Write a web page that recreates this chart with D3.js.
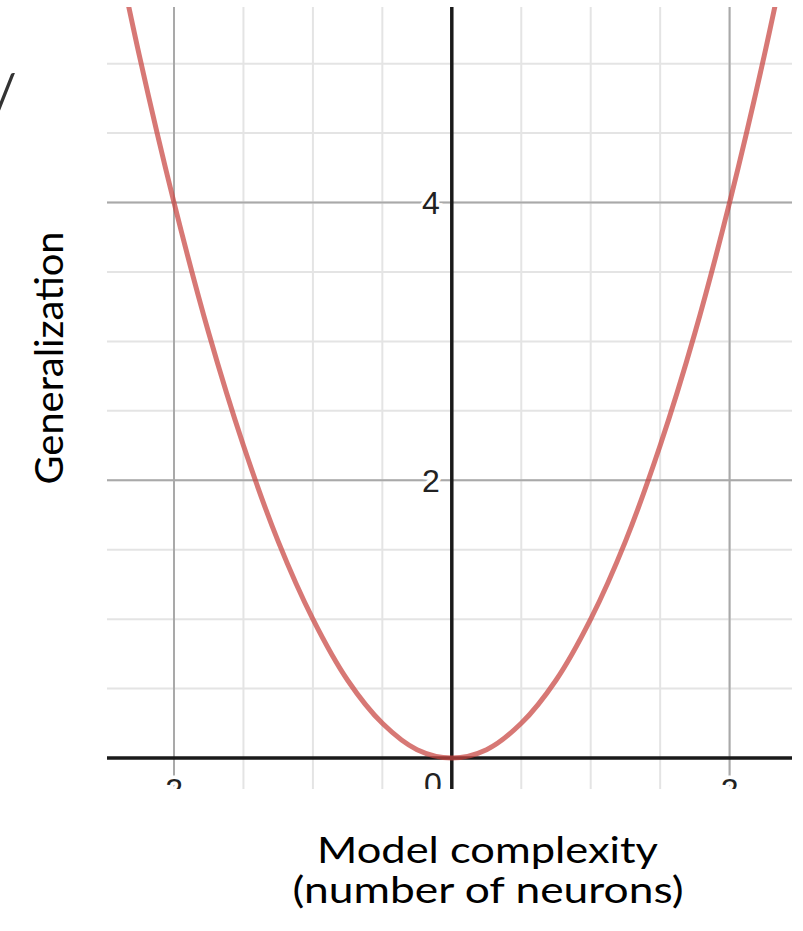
<!DOCTYPE html>
<html>
<head>
<meta charset="utf-8">
<script src="https://cdn.jsdelivr.net/npm/d3@7"></script>
<style>
  html, body { margin: 0; padding: 0; background: #fff; }
  svg { display: block; }
</style>
</head>
<body>
<svg id="chart" width="803" height="931"></svg>
<script>
// Points along the generalization curve (model complexity vs. generalization)
const curveX = [-2.5, -2.25, -2, -1.75, -1.5, -1.25, -1, -0.75, -0.5, -0.25, 0,
                0.25, 0.5, 0.75, 1, 1.25, 1.5, 1.75, 2, 2.25, 2.5];
const curveY = [6.25, 5.06, 4, 3.06, 2.25, 1.56, 1, 0.56, 0.25, 0.06, 0,
                0.06, 0.25, 0.56, 1, 1.56, 2.25, 3.06, 4, 5.06, 6.25];

// Grid and tick values
const minorXGrid = [-2.5, -2, -1.5, -1, -0.5, 0.5, 1, 1.5, 2, 2.5];
const majorXGrid = [-2, 2];
const minorYGrid = [0.5, 1, 1.5, 2, 2.5, 3, 3.5, 4, 4.5, 5, 5.5];
const majorYGrid = [2, 4];
const xTickValues = [-2, 0, 2];
const yTickValues = [2, 4];
const yTickLabels = ["2", "4"];
const xTickLabels = ["\u22122", "0", "2"];

const xTitleLines = ["Model complexity", "(number of neurons)"];
const yTitle = "Generalization";

const svg = d3.select("#chart");

// Plot frame (graph paper area)
const plot = { left: 107, right: 792, top: 7, bottom: 789 };

const x = d3.scaleLinear().domain([-2, 2]).range([174, 729.6]);
const y = d3.scaleLinear().domain([0, 4]).range([758, 202.5]);

const defs = svg.append("defs");
defs.append("clipPath").attr("id", "plotClip")
  .append("rect")
  .attr("x", plot.left).attr("y", plot.top)
  .attr("width", plot.right - plot.left)
  .attr("height", plot.bottom - plot.top);

const g = svg.append("g").attr("clip-path", "url(#plotClip)");

// Minor grid
g.append("g").selectAll("line").data(minorXGrid).join("line")
  .attr("x1", d => x(d)).attr("x2", d => x(d))
  .attr("y1", plot.top).attr("y2", plot.bottom)
  .attr("stroke", "#e4e4e4").attr("stroke-width", 2);
g.append("g").selectAll("line").data(minorYGrid).join("line")
  .attr("y1", d => y(d)).attr("y2", d => y(d))
  .attr("x1", plot.left).attr("x2", plot.right)
  .attr("stroke", "#e4e4e4").attr("stroke-width", 2);

// Major grid
g.append("g").selectAll("line").data(majorXGrid).join("line")
  .attr("x1", d => x(d)).attr("x2", d => x(d))
  .attr("y1", plot.top).attr("y2", plot.bottom)
  .attr("stroke", "#a9a9a9").attr("stroke-width", 2);
g.append("g").selectAll("line").data(majorYGrid).join("line")
  .attr("y1", d => y(d)).attr("y2", d => y(d))
  .attr("x1", plot.left).attr("x2", plot.right)
  .attr("stroke", "#a9a9a9").attr("stroke-width", 2);

// Tick labels with white halo
const tickFont = "'Liberation Sans', Arial, sans-serif";
g.append("g").selectAll("text").data(yTickValues).join("text")
  .attr("x", x(0) - 12)
  .attr("y", d => y(d))
  .attr("dy", "0.36em")
  .attr("text-anchor", "end")
  .attr("font-family", tickFont)
  .attr("font-size", 32)
  .attr("fill", "#222")
  .attr("stroke", "#fff").attr("stroke-width", 7)
  .attr("paint-order", "stroke")
  .text((d, i) => yTickLabels[i]);

g.append("g").selectAll("text").data(xTickValues).join("text")
  .attr("x", d => d === 0 ? x(0) - 10 : (d < 0 ? x(d) + 9 : x(d)))
  .attr("y", d => d === 0 ? 795 : 801)
  .attr("text-anchor", d => d === 0 ? "end" : (d < 0 ? "end" : "middle"))
  .attr("font-family", tickFont)
  .attr("font-size", 32)
  .attr("fill", "#222")
  .attr("stroke", "#fff").attr("stroke-width", 7)
  .attr("paint-order", "stroke")
  .text((d, i) => xTickLabels[i]);

// Axes
g.append("line")
  .attr("x1", plot.left).attr("x2", plot.right)
  .attr("y1", y(0)).attr("y2", y(0))
  .attr("stroke", "#1a1a1a").attr("stroke-width", 3.5);
g.append("line")
  .attr("x1", x(0)).attr("x2", x(0))
  .attr("y1", plot.top).attr("y2", plot.bottom)
  .attr("stroke", "#1a1a1a").attr("stroke-width", 3.5);

// Curve
const pts = curveX.map((v, i) => [v, curveY[i]]);
g.append("path")
  .datum(pts)
  .attr("d", d3.line().x(d => x(d[0])).y(d => y(d[1])).curve(d3.curveCatmullRom.alpha(0.5)))
  .attr("fill", "none")
  .attr("stroke", "#c74440")
  .attr("stroke-opacity", 0.72)
  .attr("stroke-width", 5);

// Axis titles
const titleFont = "Lato, 'Open Sans', sans-serif";
svg.append("text")
  .attr("x", 487.5).attr("y", 863)
  .attr("text-anchor", "middle")
  .attr("font-family", titleFont).attr("font-size", 37)
  .attr("fill", "#000")
  .attr("textLength", 341).attr("lengthAdjust", "spacingAndGlyphs")
  .text(xTitleLines[0]);
svg.append("text")
  .attr("x", 488).attr("y", 903)
  .attr("text-anchor", "middle")
  .attr("font-family", titleFont).attr("font-size", 37)
  .attr("fill", "#000")
  .attr("textLength", 391).attr("lengthAdjust", "spacingAndGlyphs")
  .text(xTitleLines[1]);
svg.append("text")
  .attr("transform", "translate(63,358) rotate(-90)")
  .attr("text-anchor", "middle")
  .attr("font-family", titleFont).attr("font-size", 38)
  .attr("fill", "#000")
  .attr("textLength", 253).attr("lengthAdjust", "spacingAndGlyphs")
  .text(yTitle);

// Fragment of a heading at the left edge
svg.append("text")
  .attr("x", -6).attr("y", 110)
  .attr("font-family", titleFont).attr("font-size", 50)
  .attr("fill", "#333")
  .text("/");
</script>
</body>
</html>
